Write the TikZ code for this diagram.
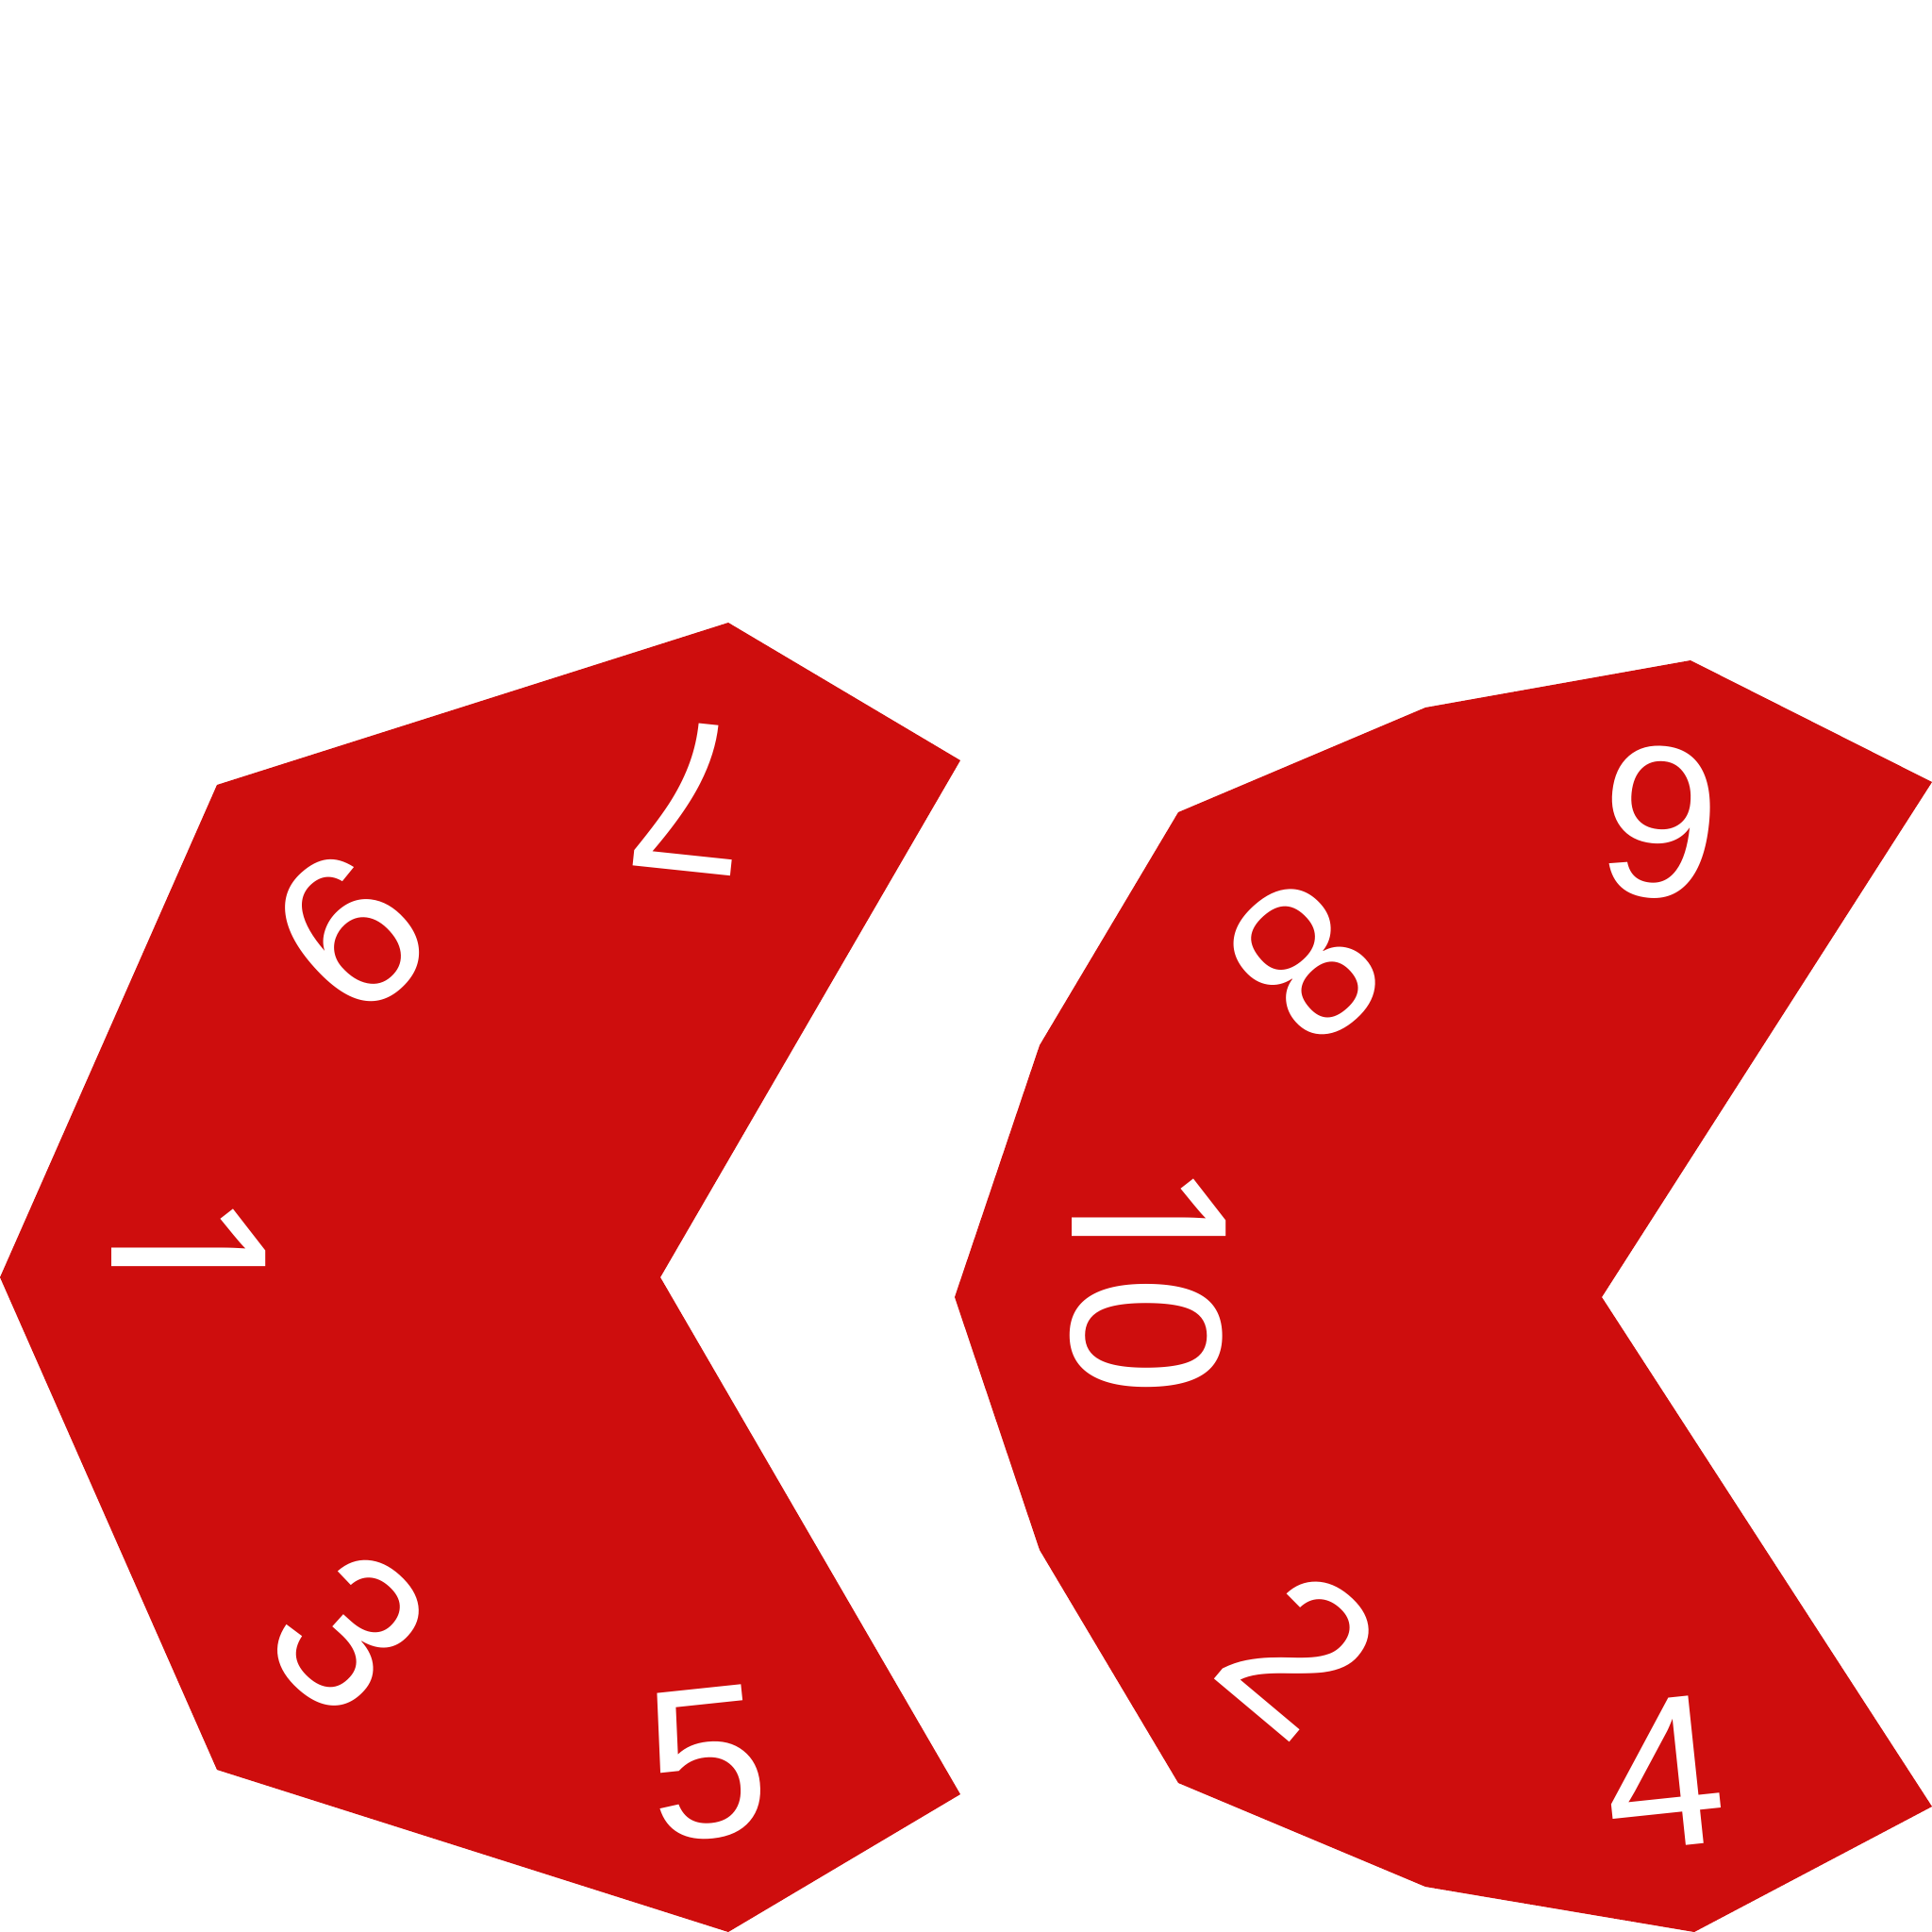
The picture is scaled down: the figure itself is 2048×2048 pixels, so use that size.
\documentclass[tikz,border=0pt]{standalone}
\usepackage{fontspec}
\setmainfont{Liberation Sans}
\newfontfamily\onefont{Noto Sans}
\definecolor{dicered}{RGB}{206,13,13}

\begin{document}
\begin{tikzpicture}[
    x=0.01cm, y=-0.01cm,
    face/.style={fill=dicered, draw=none},
    facenum/.style={text=white, inner sep=0pt, font=\fontsize{65}{65}\selectfont}
]
\useasboundingbox (0,0) rectangle (2048,2048);
\clip (0,0) rectangle (2048,2048);

% odd half of the net
\fill[face] (230,832) -- (772,660) -- (1018,806) -- (700,1354) -- (1018,1902)
    -- (772,2048) -- (230,1876) -- (0,1354) -- cycle;
% even half of the net
\fill[face] (1511,750) -- (1792,700) -- (2048,829) -- (1698,1375) -- (2048,1915)
    -- (1796,2048) -- (1511,2000) -- (1249,1890) -- (1102,1643) -- (1012,1375)
    -- (1102,1108) -- (1249,861) -- cycle;

\node[facenum, rotate=174] (seven) at (731,845) {7};
\node[facenum, rotate=222] (nine) at (371,988) {9};
\node[facenum, rotate=270] (one) at (200.5,1327) {\onefont 1};
\node[facenum, rotate=318] (three) at (370,1731) {3};
\node[facenum, rotate=6] (five) at (750,1870) {5};

\node[facenum, rotate=174] (six) at (1760,872) {6};
\node[facenum, rotate=222] (eight) at (1384,1020) {8};
\node[facenum, rotate=270] (ten) at (1216.5,1354.4) {{\onefont 1}\kern-2.2pt0};
\node[facenum, rotate=320] (two) at (1378,1752) {2};
\node[facenum, rotate=6] (four) at (1763,1880) {4};
\end{tikzpicture}
\end{document}
